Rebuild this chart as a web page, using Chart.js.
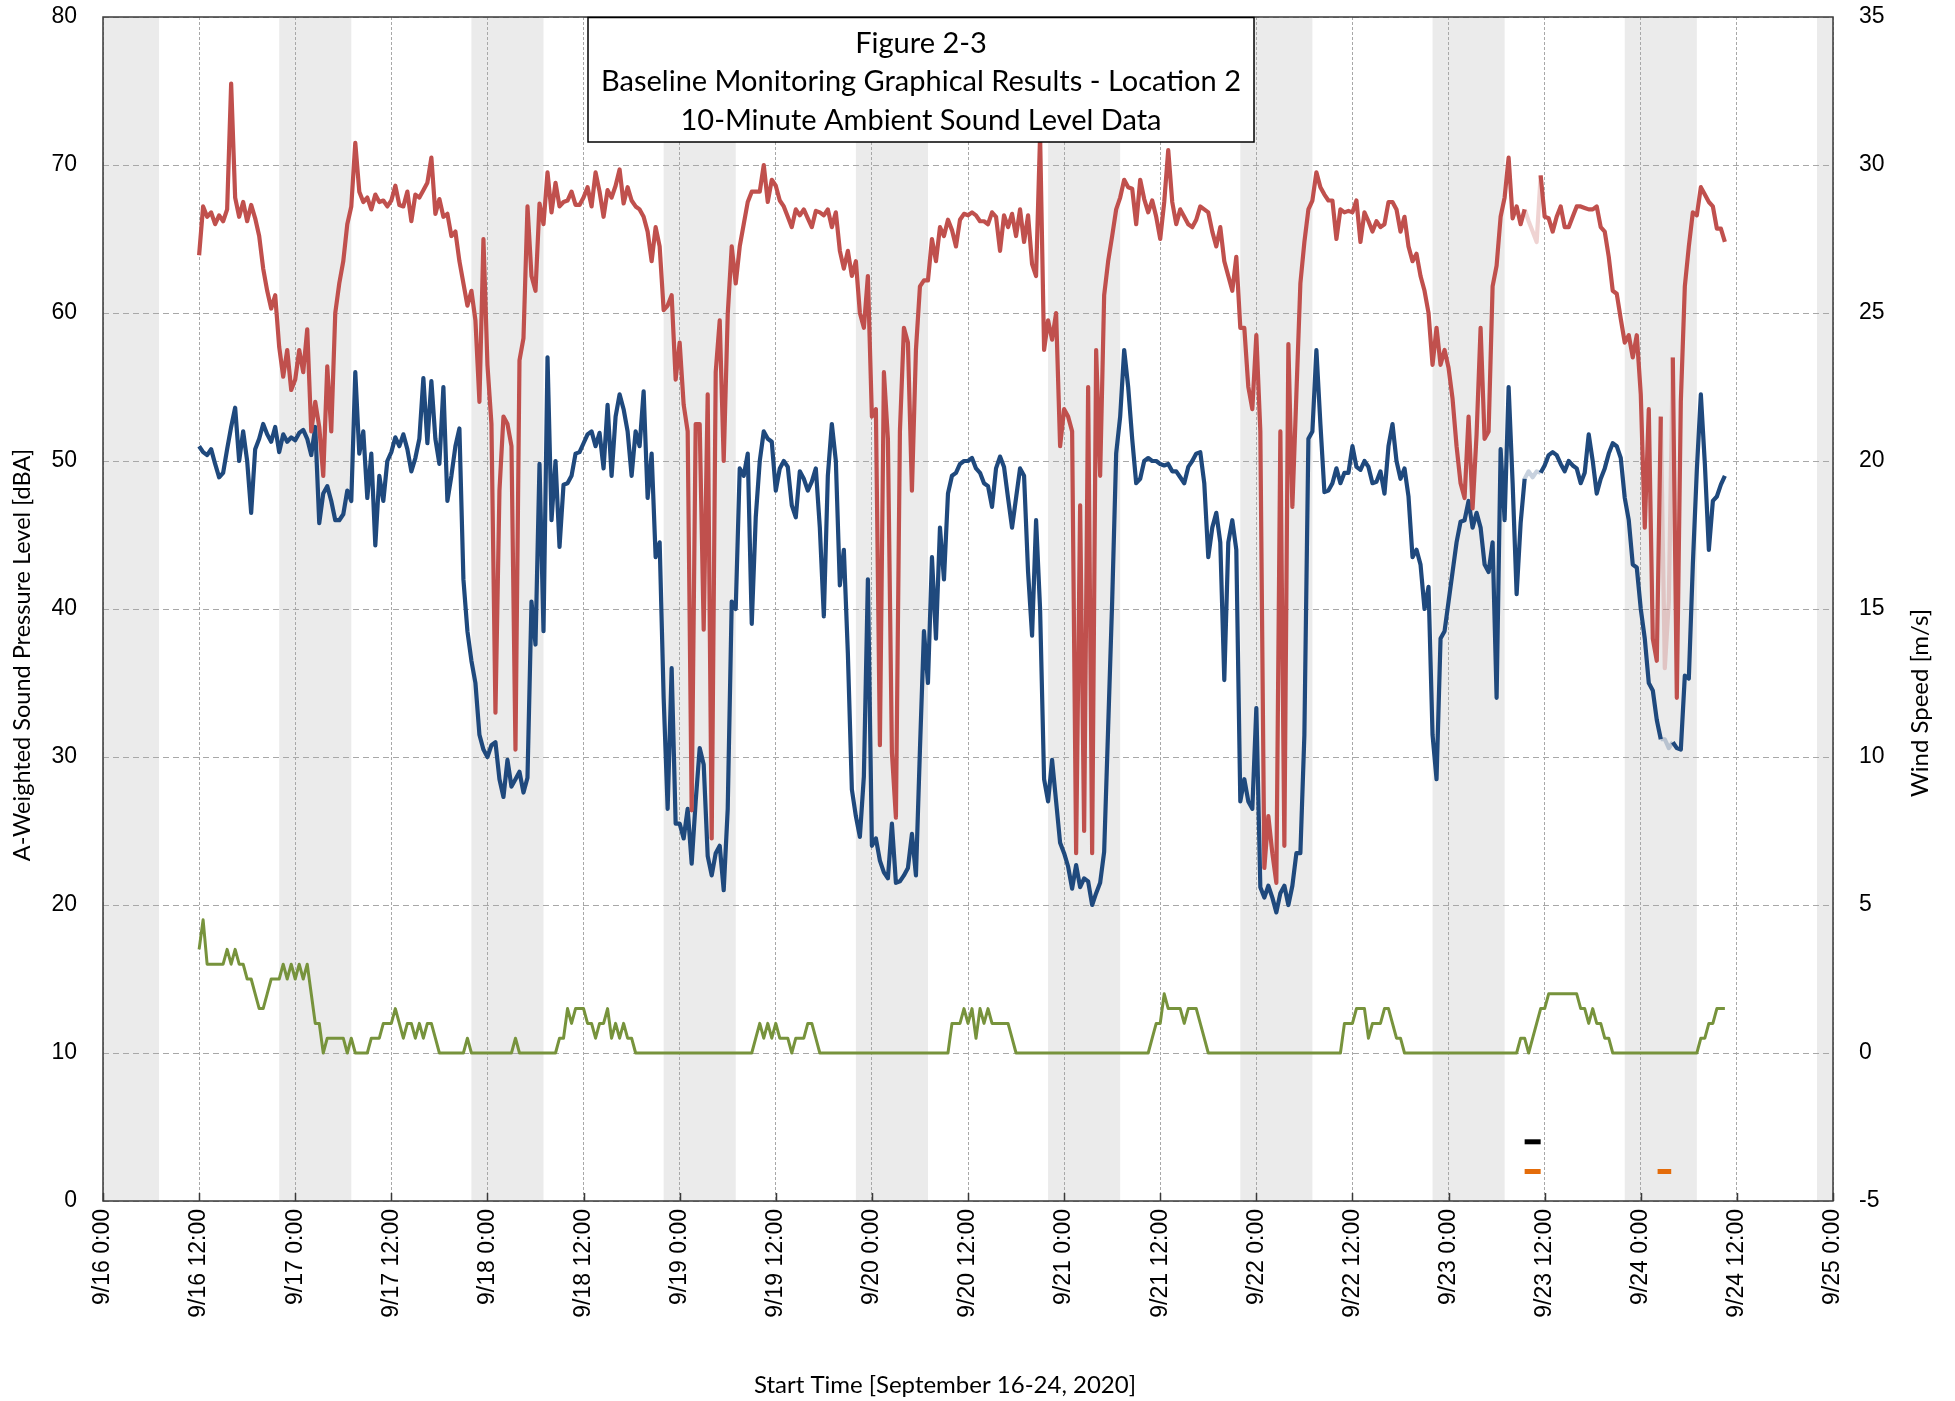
<!DOCTYPE html>
<html>
<head>
<meta charset="utf-8">
<script src="https://cdn.jsdelivr.net/npm/chart.js@4.4.1/dist/chart.umd.min.js"></script>
<style>
  html, body { margin: 0; padding: 0; background: #fff; }
</style>
</head>
<body>
<canvas id="grafico" width="1955" height="1401"></canvas>
<script>
// readings every 30 min, first one 9/16 12:00 (hours counted from 9/16 0:00)
const startHour = 12;
const stepHours = 0.5;

// red trace, dBA (one row per day, 12:00 -> 11:30)
const redLevel = [
  63.9, 67.2, 66.5, 66.8, 66, 66.6, 66.2, 67, 75.5, 67.8, 66.5, 67.5, 66.2, 67.3, 66.4, 65.2, 63, 61.5, 60.3, 61.2, 57.7, 55.7, 57.5, 54.8,
  55.5, 57.5, 56, 58.9, 52, 54, 52.3, 49, 56.4, 52, 60, 62, 63.5, 66, 67.2, 71.5, 68.2, 67.5, 67.8, 67, 68, 67.5, 67.6, 67.2,
  67.6, 68.6, 67.3, 67.2, 68.2, 66.2, 68.0, 67.8, 68.3, 68.8, 70.5, 66.7, 67.7, 66.5, 66.7, 65.2, 65.5, 63.5, 62, 60.5, 61.5, 59.5, 54, 65,
  56.5, 52.5, 33, 48, 53, 52.5, 51, 30.5, 56.8, 58.3, 67.2, 62.5, 61.5, 67.4, 66, 69.5, 66.8, 68.8, 67.2, 67.5, 67.6, 68.2, 67.3, 67.3,
  67.8, 68.5, 67.2, 69.5, 68.2, 66.5, 68.3, 67.8, 68.6, 69.7, 67.4, 68.5, 67.6, 67.2, 67, 66.5, 65.5, 63.5, 65.8, 64.5, 60.2, 60.5, 61.2, 55.5,
  58, 53.8, 52, 26.4, 52.5, 52.5, 38.6, 54.5, 24.5, 56, 59.5, 50, 59.9, 64.5, 62, 64.5, 66, 67.5, 68.2, 68.2, 68.2, 70, 67.5, 69,
  68.6, 67.6, 67.2, 66.5, 65.8, 67, 66.6, 67, 66.4, 65.8, 66.9, 66.8, 66.6, 67, 65.8, 66.8, 64.2, 63, 64.2, 62.5, 63.5, 60, 59, 62.5,
  53, 53.5, 30.8, 56, 51.5, 30.3, 25.9, 52, 59, 58, 48, 57.5, 61.8, 62.2, 62.2, 65, 63.5, 65.8, 65.2, 66.3, 65.6, 64.5, 66.3, 66.7,
  66.6, 66.8, 66.6, 66.2, 66.2, 66, 66.8, 66.5, 64.2, 66.6, 65.8, 66.7, 65.2, 67, 64.8, 66.6, 63.3, 62.5, 72, 57.5, 59.5, 58.2, 60, 51,
  53.5, 53, 52, 23.5, 47, 25, 55, 23.5, 57.5, 49, 61.2, 63.5, 65.2, 67, 67.8, 69, 68.5, 68.4, 66, 69, 67.7, 66.8, 67.6, 66.5,
  65, 67.5, 71, 67.5, 66, 67, 66.5, 66, 65.8, 66.3, 67.2, 67, 66.8, 65.5, 64.5, 65.8, 63.5, 62.5, 61.5, 63.8, 59, 59, 55, 53.5,
  58.5, 52, 22.5, 26, 23.5, 21.5, 52, 24, 57.9, 46.9, 54.5, 62, 64.8, 67, 67.6, 69.5, 68.5, 68, 67.6, 67.6, 65, 67, 66.8, 66.9,
  66.8, 67.6, 64.8, 66.8, 66.2, 65.5, 66.2, 65.8, 66, 67.5, 67.5, 67, 65.5, 66.5, 64.5, 63.5, 64, 62.5, 61.5, 60, 56.5, 59, 56.5, 57.5,
  56.3, 54.2, 51, 48.5, 47.5, 53, 46.8, 51.8, 59, 51.5, 52, 61.8, 63.2, 66.5, 67.8, 70.5, 66.4, 67.2, 66, 67, 66.2, 65.5, 64.8, 69.3,
  66.5, 66.4, 65.5, 66.5, 67.2, 65.8, 65.8, 66.5, 67.2, 67.2, 67.1, 67, 67, 67.2, 65.8, 65.5, 63.8, 61.5, 61.3, 59.6, 58, 58.5, 57, 58.5,
  54.5, 45.5, 53.5, 38, 36.5, 53, 36, 40.5, 57, 34, 54, 61.8, 64.5, 66.8, 66.6, 68.5, 68, 67.5, 67.2, 65.7, 65.7, 64.8
];

// blue trace, dBA
const blueLevel = [
  51, 50.6, 50.4, 50.8, 49.8, 48.9, 49.2, 50.8, 52.3, 53.6, 50, 52, 50, 46.5, 50.8, 51.5, 52.5, 51.8, 51.3, 52.3, 50.6, 51.8, 51.3, 51.6,
  51.4, 51.9, 52.1, 51.5, 50.4, 52.3, 45.8, 47.8, 48.3, 47.3, 46, 46, 46.4, 48, 47.3, 56, 50.5, 52, 47.5, 50.5, 44.3, 49, 47.3, 50,
  50.6, 51.6, 51, 51.8, 50.8, 49.3, 50.2, 51.5, 55.6, 51.2, 55.4, 51.5, 49.8, 55, 47.3, 49, 51, 52.2, 42, 38.5, 36.5, 35, 31.5, 30.5,
  30, 30.8, 31, 28.5, 27.3, 29.8, 28, 28.5, 29, 27.6, 28.6, 40.5, 37.6, 49.8, 38.5, 57, 46, 50, 44.2, 48.4, 48.5, 49, 50.5, 50.6,
  51.2, 51.8, 52, 51, 51.9, 49.5, 53.8, 49, 53, 54.5, 53.5, 52, 49, 52, 51, 54.7, 47.5, 50.5, 43.5, 44.5, 34, 26.5, 36, 25.5,
  25.5, 24.5, 26.5, 22.8, 27, 30.6, 29.5, 23.3, 22, 23.5, 24, 21, 26.5, 40.5, 40, 49.5, 49, 50.5, 39, 46.2, 50, 52, 51.5, 51.3,
  48, 49.5, 50, 49.6, 47, 46.2, 49.3, 48.8, 48, 48.6, 49.5, 45.5, 39.5, 49, 52.5, 50, 41.6, 44, 37, 27.8, 26, 24.6, 28.7, 42,
  24, 24.5, 23, 22.2, 21.8, 25.5, 21.5, 21.6, 22, 22.5, 24.8, 22, 30.5, 38.5, 35, 43.5, 38, 45.5, 42, 47.8, 49, 49.2, 49.8, 50,
  50, 50.2, 49.5, 49.2, 48.5, 48.3, 46.9, 49.5, 50.3, 49.6, 47.5, 45.5, 47.5, 49.5, 49, 42.5, 38.2, 46, 40, 28.5, 27, 29.8, 27, 24.2,
  23.5, 22.6, 21.1, 22.7, 21.2, 21.8, 21.6, 20, 20.8, 21.5, 23.6, 32, 40.5, 50.5, 53, 57.5, 55, 51.5, 48.5, 48.8, 50, 50.2, 50, 50,
  49.8, 49.7, 49.8, 49.3, 49.3, 48.9, 48.5, 49.6, 50, 50.5, 50.6, 48.5, 43.5, 45.5, 46.5, 44.5, 35.2, 44.5, 46, 44, 27, 28.5, 27, 26.5,
  33.3, 21.2, 20.5, 21.3, 20.5, 19.5, 20.8, 21.3, 20, 21.3, 23.5, 23.5, 31.5, 51.5, 52, 57.5, 52.5, 47.9, 48, 48.5, 49.5, 48.5, 49.2, 49.2,
  51, 49.6, 49.4, 50, 49.6, 48.5, 48.6, 49.3, 47.8, 51, 52.5, 50, 48.8, 49.5, 47.6, 43.5, 44, 43, 40, 41.5, 31.5, 28.5, 38, 38.5,
  40.5, 42.5, 44.5, 45.9, 46, 47.3, 45.5, 46.5, 45.5, 43, 42.5, 44.5, 34, 50.8, 46, 55, 48.5, 41, 45.8, 48.8, 49.3, 48.9, 49.3, 49.2,
  49.7, 50.4, 50.6, 50.4, 49.8, 49.3, 50, 49.7, 49.5, 48.5, 49.2, 51.8, 50, 47.8, 48.8, 49.5, 50.5, 51.2, 51, 50.2, 47.5, 46, 43, 42.8,
  40, 38, 35, 34.5, 32.5, 31.2, 31.2, 30.6, 31, 30.6, 30.5, 35.5, 35.3, 43, 49.4, 54.5, 49.8, 44, 47.3, 47.6, 48.4, 49
];

// green trace, wind speed m/s (right axis)
const windSpeed = [
  3.5, 4.5, 3, 3, 3, 3, 3, 3.5, 3, 3.5, 3, 3, 2.5, 2.5, 2, 1.5, 1.5, 2, 2.5, 2.5, 2.5, 3, 2.5, 3,
  2.5, 3, 2.5, 3, 2, 1, 1, 0, 0.5, 0.5, 0.5, 0.5, 0.5, 0, 0.5, 0, 0, 0, 0, 0.5, 0.5, 0.5, 1, 1,
  1, 1.5, 1, 0.5, 1, 1, 0.5, 1, 0.5, 1, 1, 0.5, 0, 0, 0, 0, 0, 0, 0, 0.5, 0, 0, 0, 0,
  0, 0, 0, 0, 0, 0, 0, 0.5, 0, 0, 0, 0, 0, 0, 0, 0, 0, 0, 0.5, 0.5, 1.5, 1, 1.5, 1.5,
  1.5, 1, 1, 0.5, 1, 1, 1.5, 0.5, 1, 0.5, 1, 0.5, 0.5, 0, 0, 0, 0, 0, 0, 0, 0, 0, 0, 0,
  0, 0, 0, 0, 0, 0, 0, 0, 0, 0, 0, 0, 0, 0, 0, 0, 0, 0, 0, 0.5, 1, 0.5, 1, 0.5,
  1, 0.5, 0.5, 0.5, 0, 0.5, 0.5, 0.5, 1, 1, 0.5, 0, 0, 0, 0, 0, 0, 0, 0, 0, 0, 0, 0, 0,
  0, 0, 0, 0, 0, 0, 0, 0, 0, 0, 0, 0, 0, 0, 0, 0, 0, 0, 0, 0, 1, 1, 1, 1.5,
  1, 1.5, 0.5, 1.5, 1, 1.5, 1, 1, 1, 1, 1, 0.5, 0, 0, 0, 0, 0, 0, 0, 0, 0, 0, 0, 0,
  0, 0, 0, 0, 0, 0, 0, 0, 0, 0, 0, 0, 0, 0, 0, 0, 0, 0, 0, 0, 0, 0, 0.5, 1,
  1, 2, 1.5, 1.5, 1.5, 1.5, 1, 1.5, 1.5, 1.5, 1, 0.5, 0, 0, 0, 0, 0, 0, 0, 0, 0, 0, 0, 0,
  0, 0, 0, 0, 0, 0, 0, 0, 0, 0, 0, 0, 0, 0, 0, 0, 0, 0, 0, 0, 0, 0, 1, 1,
  1, 1.5, 1.5, 1.5, 0.5, 1, 1, 1, 1.5, 1.5, 1, 0.5, 0.5, 0, 0, 0, 0, 0, 0, 0, 0, 0, 0, 0,
  0, 0, 0, 0, 0, 0, 0, 0, 0, 0, 0, 0, 0, 0, 0, 0, 0, 0, 0.5, 0.5, 0, 0.5, 1, 1.5,
  1.5, 2, 2, 2, 2, 2, 2, 2, 2, 1.5, 1.5, 1, 1.5, 1, 1, 0.5, 0.5, 0, 0, 0, 0, 0, 0, 0,
  0, 0, 0, 0, 0, 0, 0, 0, 0, 0, 0, 0, 0, 0, 0, 0.5, 0.5, 1, 1, 1.5, 1.5, 1.5
];

// night-time shading (22:00 - 7:00), hours from 9/16 0:00
const nightStart = [-2, 22, 46, 70, 94, 118, 142, 166, 190, 214];
const nightEnd = [7, 31, 55, 79, 103, 127, 151, 175, 199, 223];

// stretches drawn in a faded colour
const flaggedStart = [177.5, 194.5];
const flaggedEnd = [179.5, 196];

// short event markers near the bottom (left axis, dBA)
const blackMarkStart = [177.5];
const blackMarkEnd = [179.5];
const blackMarkLevel = 4;
const orangeMarkStart = [177.5, 194.1];
const orangeMarkEnd = [179.5, 195.8];
const orangeMarkLevel = 2;

const titleLines = [
  'Figure 2-3',
  'Baseline Monitoring Graphical Results - Location 2',
  '10-Minute Ambient Sound Level Data'
];

function toPoints(values) {
  return values.map((v, i) => ({ x: startHour + i * stepHours, y: v }));
}

function markPoints(starts, ends, level) {
  const pts = [];
  starts.forEach((s, i) => {
    if (i > 0) pts.push({ x: (ends[i - 1] + s) / 2, y: null });
    pts.push({ x: s, y: level }, { x: ends[i], y: level });
  });
  return pts;
}

function isFlagged(x) {
  return flaggedStart.some((s, i) => x >= s && x <= flaggedEnd[i]);
}

function fadeSegment(pale) {
  return ctx => (isFlagged(ctx.p0.parsed.x) && isFlagged(ctx.p1.parsed.x)) ? pale : undefined;
}

// keep the plot box where the original has it: no extra room for edge labels
function fixSize(w, h) {
  return s => {
    if (w) s.width = w;
    if (h) s.height = h;
    s.paddingTop = 0;
    s.paddingBottom = 0;
    s.paddingLeft = 0;
    s.paddingRight = 0;
  };
}

const titleFont = 'Lato, "Open Sans", sans-serif';

const decorations = {
  id: 'decorations',
  beforeDraw(chart) {
    const { ctx, chartArea: a, scales: { x } } = chart;
    ctx.save();
    ctx.fillStyle = '#ffffff';
    ctx.fillRect(0, 0, chart.width, chart.height);
    ctx.fillStyle = '#ebebeb';
    nightStart.forEach((s, i) => {
      const x0 = x.getPixelForValue(Math.max(s, x.min));
      const x1 = x.getPixelForValue(Math.min(nightEnd[i], x.max));
      if (x1 > x0) ctx.fillRect(x0, a.top, x1 - x0, a.bottom - a.top);
    });
    ctx.restore();
  },
  afterDraw(chart) {
    const { ctx, chartArea: a, scales: { x } } = chart;
    ctx.save();

    // frame of the plot
    ctx.strokeStyle = '#3a3a3a';
    ctx.lineWidth = 1.5;
    ctx.strokeRect(a.left, a.top, a.right - a.left, a.bottom - a.top);

    // small inward ticks on the time axis
    x.ticks.forEach(t => {
      const px = Math.round(x.getPixelForValue(t.value)) + 0.5;
      ctx.beginPath();
      ctx.moveTo(px, a.bottom);
      ctx.lineTo(px, a.bottom - 8);
      ctx.stroke();
    });

    // title box
    const bx0 = 588, bx1 = 1254, by0 = 17.5, by1 = 142;
    ctx.fillStyle = '#ffffff';
    ctx.fillRect(bx0, by0, bx1 - bx0, by1 - by0);
    ctx.strokeStyle = '#000000';
    ctx.lineWidth = 1.5;
    ctx.strokeRect(bx0, by0, bx1 - bx0, by1 - by0);
    ctx.fillStyle = '#000000';
    ctx.font = '29px ' + titleFont;
    ctx.textAlign = 'center';
    ctx.textBaseline = 'middle';
    [44, 82, 121].forEach((ty, i) => ctx.fillText(titleLines[i], (bx0 + bx1) / 2, ty));

    // axis titles
    ctx.font = '24px ' + titleFont;
    ctx.fillText('Start Time [September 16-24, 2020]', 945, 1385);

    ctx.save();
    ctx.translate(22, 655);
    ctx.rotate(-Math.PI / 2);
    ctx.font = '23.5px ' + titleFont;
    ctx.fillText('A-Weighted Sound Pressure Level [dBA]', 0, 0);
    ctx.restore();

    ctx.save();
    ctx.translate(1920, 703);
    ctx.rotate(-Math.PI / 2);
    ctx.fillText('Wind Speed [m/s]', 0, 0);
    ctx.restore();

    ctx.restore();
  }
};

const tickFont = { family: '"Liberation Sans", Arial, sans-serif', size: 23 };

const ctx = document.getElementById('grafico').getContext('2d');
new Chart(ctx, {
  type: 'line',
  data: {
    datasets: [
      {
        label: 'Red level',
        data: toPoints(redLevel),
        borderColor: '#c0504d',
        borderWidth: 4.2,
        segment: { borderColor: fadeSegment('rgba(192,80,77,0.25)') },
        yAxisID: 'y',
        order: 1
      },
      {
        label: 'Blue level',
        data: toPoints(blueLevel),
        borderColor: '#1f497d',
        borderWidth: 4.2,
        segment: { borderColor: fadeSegment('rgba(31,73,125,0.25)') },
        yAxisID: 'y',
        order: 2
      },
      {
        label: 'Wind speed',
        data: toPoints(windSpeed),
        borderColor: '#77933c',
        borderWidth: 3,
        yAxisID: 'y2',
        order: 3
      },
      {
        label: 'Black marker',
        data: markPoints(blackMarkStart, blackMarkEnd, blackMarkLevel),
        borderColor: '#000000',
        borderWidth: 5,
        borderCapStyle: 'butt',
        yAxisID: 'y',
        order: 0
      },
      {
        label: 'Orange marker',
        data: markPoints(orangeMarkStart, orangeMarkEnd, orangeMarkLevel),
        borderColor: '#e46c0a',
        borderWidth: 5,
        borderCapStyle: 'butt',
        spanGaps: false,
        yAxisID: 'y',
        order: 0
      }
    ]
  },
  options: {
    responsive: false,
    animation: false,
    events: [],
    layout: { padding: { top: 17, left: 0, right: 0, bottom: 0 } },
    elements: { point: { radius: 0 }, line: { tension: 0, borderJoinStyle: 'round' } },
    plugins: { legend: { display: false }, tooltip: { enabled: false } },
    scales: {
      x: {
        type: 'linear',
        min: 0,
        max: 216,
        afterFit: fixSize(0, 200),
        grid: { color: '#a8a8a8', lineWidth: 1, drawTicks: false },
        border: { display: false, dash: [3, 2] },
        ticks: {
          stepSize: 12,
          autoSkip: false,
          minRotation: 90,
          maxRotation: 90,
          padding: 8,
          color: '#000',
          font: tickFont,
          callback: v => '9/' + (16 + Math.floor(v / 24)) + ' ' + (v % 24) + ':00'
        }
      },
      y: {
        position: 'left',
        min: 0,
        max: 80,
        afterFit: fixSize(103, 0),
        grid: { color: '#a8a8a8', lineWidth: 1, drawTicks: false },
        border: { display: false, dash: [6, 4] },
        ticks: { stepSize: 10, padding: 26, color: '#000', font: tickFont }
      },
      y2: {
        position: 'right',
        min: -5,
        max: 35,
        afterFit: fixSize(122, 0),
        grid: { drawOnChartArea: false, drawTicks: false },
        border: { display: false },
        ticks: { stepSize: 5, padding: 26, color: '#000', font: tickFont }
      }
    }
  },
  plugins: [decorations]
});
</script>
</body>
</html>
